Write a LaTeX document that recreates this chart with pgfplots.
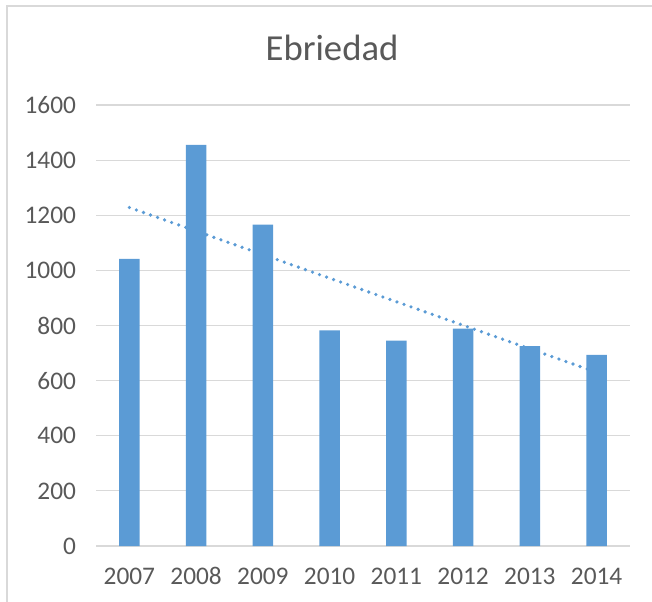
\documentclass[border=0pt]{standalone}
\usepackage{pgfplots}
\pgfplotsset{compat=1.18}
\usepackage{fontspec}
\setmainfont{Carlito}
\definecolor{barblue}{HTML}{5B9BD5}
\definecolor{gridgrey}{HTML}{D9D9D9}
\definecolor{txtgrey}{HTML}{595959}
\begin{document}
\begin{tikzpicture}
\useasboundingbox (0,0) rectangle (489pt,-451.5pt);
\draw[gridgrey, line width=1.1pt] (5.25pt,-451.5pt) -- (5.25pt,-4.5pt) -- (489pt,-4.5pt);
\node[txtgrey, font=\fontsize{27.5}{32}\selectfont] at (249pt,-36pt) {Ebriedad};
\begin{axis}[
  at={(72pt,-409.5pt)}, anchor=south west,
  scale only axis, width=400.5pt, height=330.75pt,
  xmin=-0.5, xmax=7.5, ymin=0, ymax=1600,
  ytick={0,200,...,1600},
  xtick={0,...,7},
  xticklabels={2007,2008,2009,2010,2011,2012,2013,2014},
  ymajorgrids,
  grid style={gridgrey, line width=0.8pt},
  axis line style={draw=none},
  major tick length=0pt,
  tick style={draw=none},
  /pgf/number format/assume math mode=true,
  /pgf/number format/1000 sep={},
  ticklabel style={txtgrey, font=\fontsize{19}{22}\selectfont},
  yticklabel style={xshift=-11.5pt},
  xticklabel style={anchor=base, yshift=-28.5pt},
  clip=false,
]
\addplot[ybar, bar width=15.5pt, fill=barblue, draw=none] coordinates {
  (0,1042) (1,1455) (2,1166) (3,782) (4,745) (5,789) (6,725) (7,693)
};
\addplot[barblue, line width=2.7pt, line cap=round, dash pattern=on 0pt off 5.6pt] coordinates {
  (0,1228) (7,630)
};
\end{axis}
\end{tikzpicture}
\end{document}
